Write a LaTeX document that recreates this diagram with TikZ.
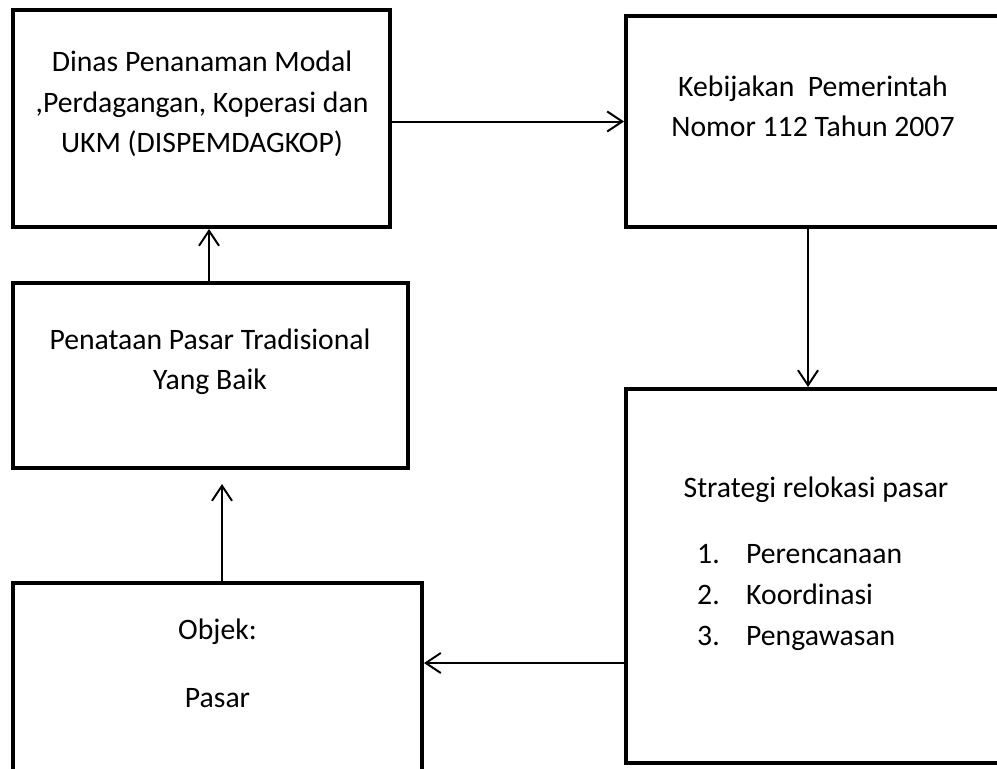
\documentclass[tikz,border=0pt]{standalone}
\usepackage{fontspec}
\setmainfont{Carlito}
\usetikzlibrary{arrows.meta}
\begin{document}
\begin{tikzpicture}[x=1bp,y=-1bp,
  box/.style={draw=black,line width=4bp,rectangle,inner sep=0pt},
  conn/.style={draw=black,line width=2bp,-{Straight Barb[length=15bp,width=20bp,line width=2bp]}},
  txt/.style={anchor=base,inner sep=0pt,font=\fontsize{29.8}{40}\selectfont},
  txtw/.style={anchor=base west,inner sep=0pt,font=\fontsize{29.8}{40}\selectfont}]
\clip (0,0) rectangle (997,769);
\fill[white] (0,0) rectangle (997,769);
% boxes
\node[box,minimum width=377bp,minimum height=217bp] (A) at (201.5,118.5) {};
\node[box,minimum width=374bp,minimum height=211bp] (B) at (813,121.5) {};
\node[box,minimum width=395bp,minimum height=185bp] (C) at (210.5,375.5) {};
\node[box,minimum width=380bp,minimum height=374bp] (D) at (816,576) {};
\node[box,minimum width=409bp,minimum height=217bp] (E) at (217.5,691.5) {};
% texts
\node[txt] (a1) at (202,72) {Dinas Penanaman Modal};
\node[txt] (a2) at (202,112) {,Perdagangan, Koperasi dan};
\node[txt] (a3) at (202,152) {UKM (DISPEMDAGKOP)};
\node[txt] (b1) at (813,97) {Kebijakan\ \ Pemerintah};
\node[txt] (b2) at (813,136) {Nomor 112 Tahun 2007};
\node[txt] (c1) at (210,349) {Penataan Pasar Tradisional};
\node[txt] (c2) at (210,389) {Yang Baik};
\node[txt] (d0) at (816,497) {Strategi relokasi pasar};
\node[txtw] (n1) at (697,563) {1.};
\node[txtw] (i1) at (746,563) {Perencanaan};
\node[txtw] (n2) at (697,604) {2.};
\node[txtw] (i2) at (746,604) {Koordinasi};
\node[txtw] (n3) at (697,645) {3.};
\node[txtw] (i3) at (746,645) {Pengawasan};
\node[txt] (e1) at (217.5,639) {Objek:};
\node[txt] (e2) at (217.5,707) {Pasar};
% connectors
\coordinate (dy) at (0,663);
\draw[conn] (A.east |- B.west) -- (B.west);
\draw[conn] ([xshift=-5bp]B.south) -- ([xshift=-5bp]B.south |- D.north);
\draw[conn] (D.west |- dy) -- (E.east |- dy);
\draw[conn,shorten >=14bp] ([xshift=4.5bp]E.north) -- ([xshift=4.5bp]E.north |- C.south);
\draw[conn] ([xshift=-1.5bp]C.north) -- ([xshift=-1.5bp]C.north |- A.south);
\end{tikzpicture}
\end{document}
